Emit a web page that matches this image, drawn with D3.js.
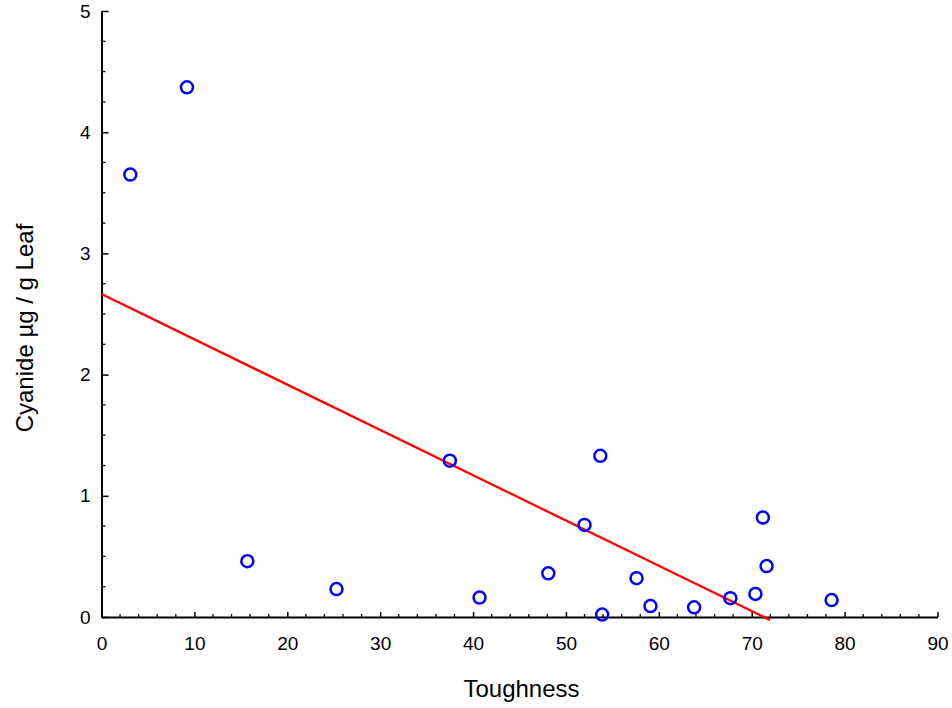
<!DOCTYPE html>
<html>
<head>
<meta charset="utf-8">
<script src="https://cdn.jsdelivr.net/npm/d3@7"></script>
<style>
  body { margin: 0; background: #fff; }
  svg { display: block; }
  .axis text { font-family: "Liberation Sans", Arial, sans-serif; font-size: 19px; fill: #000; }
  .axis path, .axis line { stroke: #000; }
</style>
</head>
<body>
<svg id="chart" width="952" height="708"></svg>
<script>
// data
var toughness = [3.1, 9.2, 15.7, 25.3, 37.5, 40.7, 48.1, 52.0, 53.7, 53.9, 57.6, 59.1, 63.8, 67.7, 70.4, 71.2, 71.6, 78.6];
var cyanide   = [3.65, 4.37, 0.46, 0.23, 1.29, 0.16, 0.36, 0.76, 1.33, 0.02, 0.32, 0.09, 0.08, 0.155, 0.19, 0.82, 0.42, 0.14];
var fitX = [0, 71.97];
var fitY = [2.665, -0.025];
var xTicks = [0, 10, 20, 30, 40, 50, 60, 70, 80, 90];
var yTicks = [0, 1, 2, 3, 4, 5];

var svg = d3.select("#chart");
var margin = {left: 101.5, right: 14.5, top: 11, bottom: 91};
var width = 952 - margin.left - margin.right,
    height = 708 - margin.top - margin.bottom;

var x = d3.scaleLinear().domain([0, 90]).range([0, width]);
var y = d3.scaleLinear().domain([0, 5]).range([height, 0]);

var g = svg.append("g").attr("transform", "translate(" + margin.left + "," + margin.top + ")");

// minor ticks
var xMinor = d3.range(0, 90.01, 2).filter(function(d){ return d % 10 != 0; });
var yMinor = d3.range(0, 5.001, 0.25).filter(function(d){ return Math.abs(d - Math.round(d)) > 1e-6; });

g.append("g").selectAll("line").data(xMinor).enter().append("line")
  .attr("x1", function(d){ return x(d); }).attr("x2", function(d){ return x(d); })
  .attr("y1", height).attr("y2", height - 3)
  .attr("stroke", "#000").attr("stroke-width", 1.3);

g.append("g").selectAll("line").data(yMinor).enter().append("line")
  .attr("y1", function(d){ return y(d); }).attr("y2", function(d){ return y(d); })
  .attr("x1", 0).attr("x2", 4)
  .attr("stroke", "#000").attr("stroke-width", 1.3);

// axes, ticks pointing inward
var xAxis = g.append("g").attr("class", "axis")
  .attr("transform", "translate(0," + height + ")")
  .call(d3.axisBottom(x).tickValues(xTicks).tickFormat(d3.format("d")).tickSizeInner(-5).tickSizeOuter(0).tickPadding(20));
var yAxis = g.append("g").attr("class", "axis")
  .call(d3.axisLeft(y).tickValues(yTicks).tickFormat(d3.format("d")).tickSizeInner(-7).tickSizeOuter(0).tickPadding(11));

xAxis.select(".domain").attr("stroke-width", 2);
yAxis.select(".domain").attr("stroke-width", 2);
xAxis.selectAll(".tick line").attr("stroke-width", 1.5);
yAxis.selectAll(".tick line").attr("stroke-width", 1.5);

// fitted line
var fit = fitX.map(function(d, i){ return [d, fitY[i]]; });
g.append("path")
  .datum(fit)
  .attr("fill", "none")
  .attr("stroke", "#ff0000")
  .attr("stroke-width", 2.3)
  .attr("d", d3.line().x(function(d){ return x(d[0]); }).y(function(d){ return y(d[1]); }));

// points
var pts = toughness.map(function(d, i){ return {t: d, c: cyanide[i]}; });
g.selectAll(".pt").data(pts).enter().append("circle")
  .attr("class", "pt")
  .attr("cx", function(d){ return x(d.t); })
  .attr("cy", function(d){ return y(d.c); })
  .attr("r", 6)
  .attr("fill", "none")
  .attr("stroke", "#0000ff")
  .attr("stroke-width", 2.5);

// axis titles
svg.append("text")
  .attr("x", 521.5).attr("y", 697)
  .attr("text-anchor", "middle")
  .style("font", "24px 'Liberation Sans', Arial, sans-serif")
  .text("Toughness");

svg.append("text")
  .attr("transform", "translate(33,328) rotate(-90)")
  .attr("text-anchor", "middle")
  .style("font", "24px 'Liberation Sans', Arial, sans-serif")
  .text("Cyanide µg / g Leaf");
</script>
</body>
</html>
